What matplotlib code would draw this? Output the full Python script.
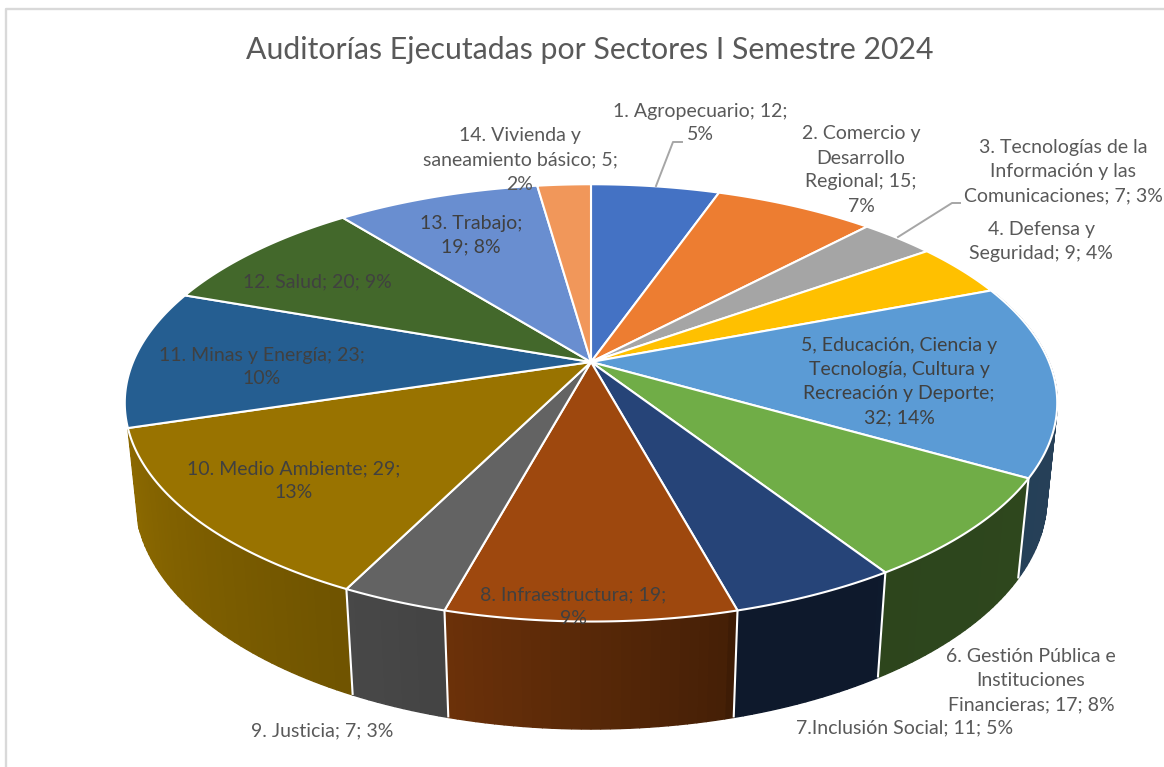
import numpy as np
import matplotlib
matplotlib.use('Agg')
import matplotlib.pyplot as plt
from matplotlib.patches import Polygon

# Data (percent labels are kept as printed)
values = [12, 15, 7, 9, 32, 17, 11, 19, 7, 29, 23, 20, 19, 5]
colors = ['#4472C4', '#ED7D31', '#A5A5A5', '#FFC000', '#5B9BD5', '#70AD47', '#264478',
          '#9E480E', '#636363', '#997300', '#255E91', '#43682B', '#698ED0', '#F1975A']
labels = ['1. Agropecuario; 12;\n5%',
          '2. Comercio y\nDesarrollo\nRegional; 15;\n7%',
          '3. Tecnologías de la\nInformación y las\nComunicaciones; 7; 3%',
          '4. Defensa y\nSeguridad; 9; 4%',
          '5, Educación, Ciencia y\nTecnología, Cultura y\nRecreación y Deporte;\n32; 14%',
          '6. Gestión Pública e\nInstituciones\nFinancieras; 17; 8%',
          '7.Inclusión Social; 11; 5%',
          '8. Infraestructura; 19;\n9%',
          '9. Justicia; 7; 3%',
          '10. Medio Ambiente; 29;\n13%',
          '11. Minas y Energía; 23;\n10%',
          '12. Salud; 20; 9%',
          '13. Trabajo;\n19; 8%',
          '14. Vivienda y\nsaneamiento básico; 5;\n2%']
title = 'Auditorías Ejecutadas por Sectores I Semestre 2024'

# Label centres in pixels
label_pos = [(700, 123), (861, 170), (1063, 172), (1041, 242), (899, 382), (1031, 681),
             (905, 728), (573, 607), (322, 731), (294, 481), (262, 367), (317, 282),
             (471, 235), (520, 160)]
inside = (4, 7, 9, 10, 11, 12)

plt.rcParams['font.family'] = ['Lato', 'DejaVu Sans']
text_color = '#595959'
dark_text = '#404040'

# Projection of the tilted pie
cx, cy = 591, 362
a, b, k = 458, 211, 0.187
depth, e = 95.5, 0.022


def top_xy(theta):
    X, Y = np.sin(theta), np.cos(theta)
    w = 1 + k * Y
    return cx + a * X / w, cy - b * Y / w


def bottom_xy(theta):
    X, Y = np.sin(theta), np.cos(theta)
    w = 1 + k * Y + e
    return cx + a * X / w, cy + (depth - b * Y) / w


def side_color(col, deg):
    f = np.interp(deg, [95, 147, 148, 165, 166, 195, 253, 270],
                  [0.42, 0.40, 0.37, 0.37, 0.44, 0.68, 0.92, 0.92])
    return tuple(np.array(matplotlib.colors.to_rgb(col)) * f)


fig = plt.figure(figsize=(11.64, 7.67), dpi=100)
ax = fig.add_axes([0, 0, 1, 1])
ax.set_xlim(0, 1164)
ax.set_ylim(767, 0)
ax.axis('off')

# Screenshot frame
ax.plot([6, 6, 1164], [767, 9, 9], color='#D9D9D9', lw=1.7, zorder=0)

edges = np.cumsum([0] + values) / sum(values) * 2 * np.pi

# Side wall, drawn in thin strips from the outer parts toward the front
strips = []
for i, col in enumerate(colors):
    t0, t1 = edges[i], edges[i + 1]
    n = max(2, int(np.degrees(t1 - t0)))
    ts = np.linspace(t0, t1, n + 1)
    for s0, s1 in zip(ts[:-1], ts[1:]):
        mid = np.degrees((s0 + s1) / 2)
        if 70 < mid < 253:
            strips.append((abs(mid - 180), s0, s1, col, mid))
strips.sort(key=lambda s: -s[0])
for _, s0, s1, col, mid in strips:
    sc = side_color(col, mid)
    pts = [top_xy(s0), top_xy(s1), bottom_xy(s1), bottom_xy(s0)]
    ax.add_patch(Polygon(pts, closed=True, facecolor=sc, edgecolor=sc, lw=1.0, zorder=1))

# White separators on the side wall
for t in edges[:-1]:
    if np.radians(100) < t < np.radians(230):
        x0, y0 = top_xy(t)
        x1, y1 = bottom_xy(t)
        ax.plot([x0, x1], [y0, y1], color='white', lw=1.5, zorder=2, solid_capstyle='butt')

# Top face
for i, col in enumerate(colors):
    ts = np.linspace(edges[i], edges[i + 1], 80)
    xs, ys = top_xy(ts)
    pts = [(cx, cy)] + list(zip(xs, ys))
    ax.add_patch(Polygon(pts, closed=True, facecolor=col, edgecolor='white', lw=1.5,
                         joinstyle='round', zorder=3))

# Leader lines
ax.plot([656, 673, 682], [186, 142, 142], color='#A6A6A6', lw=1.4, zorder=4)
ax.plot([898, 952, 960], [237, 203, 203], color='#A6A6A6', lw=1.4, zorder=4)

# Labels
for i, (txt, (x, y)) in enumerate(zip(labels, label_pos)):
    c = dark_text if i in inside else text_color
    ax.text(x, y, txt, ha='center', va='center', fontsize=14.0, color=c,
            linespacing=1.5, zorder=5)

ax.text(590, 49.5, title, ha='center', va='center', fontsize=21.8, color='#595959', zorder=5)

fig.savefig('out.png', dpi=100)
